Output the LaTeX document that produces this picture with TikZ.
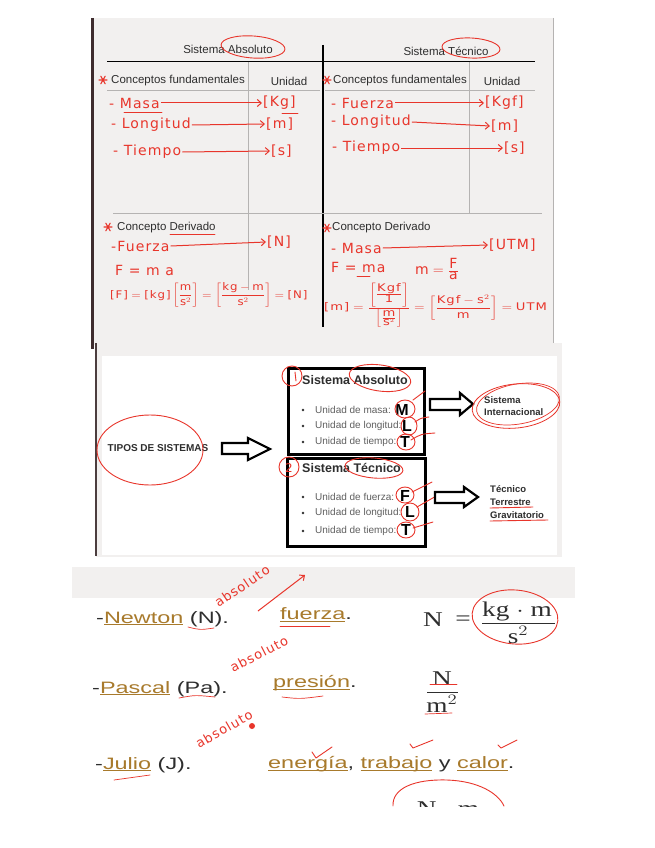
\documentclass[tikz,border=0pt]{standalone}
\usepackage{fontspec}
\setmainfont{Liberation Sans}
\newfontfamily\hwfont[LetterSpace=8]{DejaVu Sans}
\newfontfamily\serifnum{Liberation Serif}
\usepackage{graphicx}
\usetikzlibrary{arrows.meta}
\definecolor{hred}{HTML}{E8352B}
\definecolor{pgray}{HTML}{F2F0EF}
\definecolor{txtd}{HTML}{2E2E2E}
\definecolor{gold}{HTML}{A87A2C}
\definecolor{bordr}{HTML}{3E2C2E}
\definecolor{lgray}{HTML}{B5B3B2}
\definecolor{bgray}{HTML}{5F5F5F}
\tikzset{
  ptxt/.style={font=\fontsize{11.5}{13}\selectfont, text=txtd, inner sep=0pt},
  hw/.style={font=\hwfont\fontsize{14}{15}\selectfont, text=hred, inner sep=1pt},
  hwsmall/.style={font=\hwfont\fontsize{10.5}{11}\selectfont, text=hred, inner sep=0pt},
  harr/.style={draw=hred, line width=1pt, -{Straight Barb[length=4pt,width=7pt]}},
  hline/.style={draw=hred, line width=0.9pt, line cap=round, line join=round},
  bul/.style={font=\fontsize{10}{11}\selectfont, text=bgray, inner sep=0pt, anchor=west},
  bigl/.style={font=\fontsize{16}{18}\selectfont\bfseries, text=black, inner sep=0pt},
  btit/.style={font=\fontsize{12.5}{14}\selectfont\bfseries, text=txtd, inner sep=0pt, anchor=west},
  bsm/.style={font=\fontsize{9.5}{11}\selectfont\bfseries, text=txtd, inner sep=0pt, anchor=west},
  bigtxt/.style={font=\fontsize{16.5}{19}\selectfont, text=txtd, inner sep=0pt, anchor=west},
  sernum/.style={font=\serifnum\fontsize{21}{23}\selectfont, text=txtd, inner sep=0pt},
  hollow/.style={draw=black, line width=2.2pt, line join=miter, fill=white},
  boxr/.style={draw=black, line width=2.8pt, inner sep=0pt, anchor=north west},
  redast/.pic={\draw[hred, line width=1.1pt, line cap=round] (-4,0)--(4,0) (-2.2,-3.8)--(2.2,3.8) (-2.2,3.8)--(2.2,-3.8);}
}
\begin{document}
\begin{tikzpicture}[x=1pt,y=-1pt]
\useasboundingbox (0,0) rectangle (655,848);
\fill[white] (0,0) rectangle (655,848);

% ---------------- Panel 1 ----------------
\fill[pgray] (92,18) rectangle (553,345);
\draw[lgray, line width=0.8pt] (553,18) -- (553,345);
\draw[bordr, line width=2.6pt] (92.5,18) -- (92.5,349);

\draw[black, line width=1.1pt] (107,61.5) -- (535,61.5);
\draw[black, line width=1.2pt] (323,45) -- (323,327);
\draw[lgray, line width=0.8pt] (248,62) -- (248,290);
\draw[lgray, line width=0.8pt] (469,62) -- (469,213);
\draw[lgray, line width=0.8pt] (107,90) -- (320,90);
\draw[lgray, line width=0.8pt] (325,90) -- (535,90);
\draw[lgray, line width=0.8pt] (113,213) -- (542,213);

\node[ptxt] (titA) at (228,49) {Sistema Absoluto};
\node[ptxt] (titT) at (446,51) {Sistema Técnico};
\draw[hline, rotate around={-4:(253,47)}] (253,47) ellipse [x radius=32, y radius=11];
\draw[hline, rotate around={-3:(471,48)}] (471,48) ellipse [x radius=29, y radius=10];

\pic at (103,80) {redast};
\pic at (327,80) {redast};
\node[ptxt, anchor=west] (cfA) at (111,81) {Conceptos fundamentales};
\node[ptxt] (unA) at (289,81) {Unidad};
\node[ptxt, anchor=west] (cfT) at (333,81) {Conceptos fundamentales};
\node[ptxt] (unT) at (502,81) {Unidad};

% left fundamentals
\node[hw, anchor=west] (masa) at (108,103) {- Masa};
\node[hw, anchor=west] (kg) at (262,103) {[Kg]};
\draw[harr] (masa.east) -- (kg.west);
\draw[hline, line width=0.7pt] (124,112) -- (162,112);
\draw[hline, line width=0.7pt] (282,113) -- (298,113);
\node[hw, anchor=west] (longA) at (110,125) {- Longitud};
\node[hw, anchor=west] (mA) at (265,124) {[m]};
\draw[harr] (longA.east) -- (mA.west);
\node[hw, anchor=west] (tiemA) at (112,152) {- Tiempo};
\node[hw, anchor=west] (sA) at (270,151) {[s]};
\draw[harr] (tiemA.east) -- (sA.west);

% right fundamentals
\node[hw, anchor=west] (fuerT) at (330,103) {- Fuerza};
\node[hw, anchor=west] (kgf) at (484,103) {[Kgf]};
\draw[harr] (fuerT.east) -- (kgf.west);
\node[hw, anchor=west] (longT) at (330,122) {- Longitud};
\node[hw, anchor=west] (mT) at (490,126) {[m]};
\draw[harr] (longT.east) -- (mT.west);
\node[hw, anchor=west] (tiemT) at (331,148) {- Tiempo};
\node[hw, anchor=west] (sT) at (503,148) {[s]};
\draw[harr] (tiemT.east) -- (sT.west);

% derived, left
\pic at (108,227) {redast};
\node[ptxt, anchor=west] (cdA) at (117,228) {Concepto Derivado};
\draw[hline, line width=0.7pt] (170,234) -- (215,234);
\node[hw, anchor=west] (fzA) at (110,246) {-Fuerza};
\node[hw, anchor=west] (nA) at (266,242) {[N]};
\draw[harr] (fzA.east) -- (nA.west);
\node[hw, anchor=west] (fmaA) at (114,270) {F = m a};
\node[hwsmall, anchor=west] (eqA) at (110,295) {\scalebox{1.12}[1]{$\displaystyle \mbox{[F]}=\mbox{[kg]}\left[\frac{\mbox{m}}{\mbox{s}^{2}}\right]=\left[\frac{\mbox{kg}-\mbox{m}}{\mbox{s}^{2}}\right]=\mbox{[N]}$}};

% derived, right
\pic at (327,228) {redast};
\node[ptxt, anchor=west] (cdT) at (332,228) {Concepto Derivado};
\node[hw, anchor=west] (msT) at (330,248) {- Masa};
\node[hw, anchor=west] (utm) at (488,245) {[UTM]};
\draw[harr] (msT.east) -- (utm.west);
\node[hw, anchor=west] (fmaT) at (330,267) {F = ma};
\draw[hline, line width=0.7pt] (357,276) -- (370,276);
\node[hw, anchor=west] (mfa) at (414,269) {$\mbox{m}=\frac{\mbox{F}}{\mbox{a}}$};
\node[hwsmall, anchor=west] (eqT) at (324,305) {\scalebox{1.25}[1]{$\displaystyle \mbox{[m]}=\frac{\left[\frac{\mbox{Kgf}}{\mbox{1}}\right]}{\left[\frac{\mbox{m}}{\mbox{s}^{2}}\right]}=\left[\frac{\mbox{Kgf}-\mbox{s}^{2}}{\mbox{m}}\right]=\mbox{UTM}$}};

% ---------------- Panel 2 ----------------
\fill[pgray] (96,343) rectangle (562,557);
\fill[white] (102,356) rectangle (557,555);
\draw[bordr!80!gray, line width=2pt] (96,343) -- (96,556);

\node[font=\fontsize{10}{12}\selectfont\bfseries, text=txtd, inner sep=0pt] (tipos) at (158,448) {TIPOS DE SISTEMAS};
\draw[hline] (150,450) ellipse [x radius=53, y radius=35];
\draw[hollow] (222,443)--(248,443)--(248,438)--(270,449)--(248,460)--(248,454)--(222,454)--cycle;

\node[boxr, minimum width=136pt, minimum height=86pt] (boxA) at (287,367) {};
\node[boxr, minimum width=138pt, minimum height=88pt] (boxT) at (286,457) {};

\node[btit] (saB) at (302,380) {Sistema Absoluto};
\draw[hline] (292,376) circle (10);
\draw[hline] (295,372) -- (296,381);
\draw[hline, rotate around={-8:(380,378)}] (380,378) ellipse [x radius=31, y radius=13];

\foreach \yy in {410,426,442,497,513,531} \fill[txtd] (303,\yy) circle (1.4);
\node[bul] (u1) at (315,410) {Unidad de masa:};
\node[bul] (u2) at (315,426) {Unidad de longitud:};
\node[bul] (u3) at (315,442) {Unidad de tiempo:};
\node[bigl] (lM) at (402,410) {M};
\node[bigl] (lL) at (407,426) {L};
\node[bigl] (lT) at (405,442) {T};
\draw[hline] (405,409) ellipse [x radius=10, y radius=9];
\draw[hline] (413,400) -- (425,391);
\draw[hline] (409,426) ellipse [x radius=8, y radius=9];
\draw[hline] (415,422) .. controls (421,418) .. (429,417);
\draw[hline] (406,442) ellipse [x radius=9, y radius=8];
\draw[hline] (411,440) .. controls (421,434) .. (435,433);

\draw[hollow] (430,399)--(460,399)--(460,393)--(473,404)--(460,415)--(460,410)--(430,410)--cycle;
\node[bsm] (si1) at (484,400) {Sistema};
\node[bsm] (si2) at (484,412) {Internacional};
\draw[hline, line width=0.8pt, rotate around={6:(516,406)}] (516,406) ellipse [x radius=44, y radius=22];
\draw[hline, line width=0.7pt, rotate around={10:(518,404)}] (518,404) ellipse [x radius=42, y radius=20];

\node[btit] (stB) at (302,468) {Sistema Técnico};
\draw[hline] (289,467) circle (10);
\node[hw, font=\hwfont\fontsize{12}{12}\selectfont] (two) at (289,468) {2};
\draw[hline, rotate around={-5:(374,468)}] (374,468) ellipse [x radius=29, y radius=10];

\node[bul] (u4) at (315,497) {Unidad de fuerza:};
\node[bul] (u5) at (315,513) {Unidad de longitud:};
\node[bul] (u6) at (315,531) {Unidad de tiempo:};
\node[bigl] (lF) at (405,496) {F};
\node[bigl] (lL2) at (410,512) {L};
\node[bigl] (lT2) at (406,530) {T};
\draw[hline] (405,495) ellipse [x radius=9, y radius=8];
\draw[hline] (412,492) -- (432,482);
\draw[hline] (410,512) ellipse [x radius=9, y radius=9];
\draw[hline] (417,507) -- (438,495);
\draw[hline] (406,530) ellipse [x radius=9, y radius=8];
\draw[hline] (413,528) -- (433,522);

\draw[hollow] (435,492)--(464,492)--(464,487)--(478,497)--(464,507)--(464,503)--(435,503)--cycle;
\node[bsm] (tec1) at (490,489) {Técnico};
\node[bsm] (tec2) at (490,502) {Terrestre};
\node[bsm] (tec3) at (490,515) {Gravitatorio};
\draw[hline] (490,508) -- (533,507);
\draw[hline] (490,521) -- (548,520);

% ---------------- Panel 3 ----------------
\fill[pgray] (72,567) rectangle (575,598);

\node[bigtxt] (newton) at (96,619) {\scalebox{1.42}[1]{-\textcolor{gold}{\underline{\smash{Newton}}} (N).}};
\node[bigtxt] (fuerza) at (280,620) {\scalebox{1.42}[1]{\textcolor{gold}{\underline{\smash{fuerza}}}.}};
\node[bigtxt] (pascal) at (92,689) {\scalebox{1.42}[1]{-\textcolor{gold}{\underline{\smash{Pascal}}} (Pa).}};
\node[bigtxt] (presion) at (273,688) {\scalebox{1.42}[1]{\textcolor{gold}{\underline{\smash{presión}}}.}};
\node[bigtxt] (julio) at (95,765) {\scalebox{1.42}[1]{-\textcolor{gold}{\underline{\smash{Julio}}} (J).}};
\node[bigtxt] (energia) at (268,766) {\scalebox{1.42}[1]{\textcolor{gold}{\underline{\smash{energía}}}, \textcolor{gold}{\underline{\smash{trabajo}}} y \textcolor{gold}{\underline{\smash{calor}}}.}};

\node[sernum] (nN) at (433,620) {\scalebox{1.3}[1]{N}};
\node[sernum] (eqN) at (463,621) {\scalebox{1.3}[1]{=}};
\node[sernum] (numN) at (517,611) {\scalebox{1.3}[1]{kg $\cdot$ m}};
\draw[txtd, line width=1pt] (482,623) -- (555,623);
\node[sernum] (denN) at (518,635) {\scalebox{1.3}[1]{s$^2$}};

\node[sernum] (pN) at (442,679) {\scalebox{1.3}[1]{N}};
\draw[txtd, line width=1pt] (427,692) -- (458,692);
\node[sernum] (pm) at (442,704) {\scalebox{1.3}[1]{m$^2$}};

\begin{scope}
\clip (60,560) rectangle (600,806);
\node[sernum] (jN) at (448,809) {\scalebox{1.3}[1]{N $\cdot$ m}};
\draw[hline] (393,806) .. controls (392,788) and (415,779) .. (447,780) .. controls (478,781) and (498,793) .. (504,806);
\end{scope}

% red annotations bottom
\node[hw, font=\hwfont\fontsize{13}{14}\selectfont, inner sep=0pt, rotate=34] (abs1) at (242,586) {absoluto};
\coordinate (a1s) at (258,611);
\coordinate (a1e) at (305,575);
\draw[harr] (a1s) -- (a1e);
\node[hw, font=\hwfont\fontsize{13}{14}\selectfont, inner sep=0pt, rotate=27] (abs2) at (259,654) {absoluto};
\node[hw, font=\hwfont\fontsize{13}{14}\selectfont, inner sep=0pt, rotate=30] (abs3) at (224,729) {absoluto};
\fill[hred] (252,726) circle (3);

\draw[hline, line width=0.7pt] (188,627) .. controls (200,630) .. (214,628);
\draw[hline, line width=0.7pt] (179,698) .. controls (195,695) .. (215,697);
\draw[hline, line width=0.7pt] (114,780) -- (150,775);
\draw[hline, line width=0.7pt] (280,626) -- (330,626);
\draw[hline, line width=0.7pt] (282,697) .. controls (300,699) .. (323,696);
\draw[hline, line width=0.7pt] (430,684) -- (457,684);
\draw[hline, line width=0.7pt] (425,714) -- (452,713);
\draw[hline, rotate around={-5:(515,617)}] (515,617) ellipse [x radius=43, y radius=27];

\draw[hline] (312,752) -- (316,758) -- (332,747);
\draw[hline] (410,744) -- (413,748) -- (433,740);
\draw[hline] (498,745) -- (501,748) -- (517,740);
\end{tikzpicture}
\end{document}
